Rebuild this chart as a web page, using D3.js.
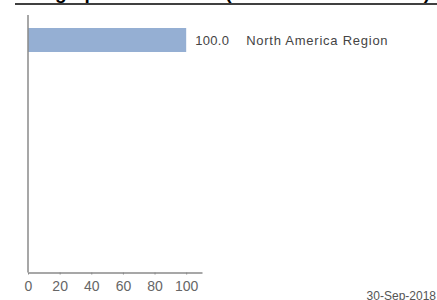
<!DOCTYPE html>
<html lang="en">
<head>
    <meta charset="UTF-8">
    <title>Geographic Allocation</title>
    <script src="https://d3js.org/d3.v7.min.js"></script>
    <style>
        html, body { margin: 0; padding: 0; background: #fff; overflow: hidden; }
        svg { display: block; font-family: "Liberation Sans", Arial, sans-serif; }
    </style>
</head>
<body>
    <script>
        const categories = ['North America Region'];
        const values = [100.0];
        const tickValues = [0, 20, 40, 60, 80, 100];
        const title = 'Geographic Allocation (% of Total Net Assets)';
        const asOfDate = '30-Sep-2018';

        const width = 437, height = 300;
        const margin = { top: 15, left: 28, bottom: 27 };

        const svg = d3.select("body").append("svg")
            .attr("width", width)
            .attr("height", height);

        // title sits mostly above the visible area, only descenders show
        svg.append("text")
            .attr("x", 18)
            .attr("y", -1.5)
            .style("font-size", "19px")
            .style("font-weight", "bold")
            .style("fill", "#000")
            .text(title);

        svg.append("line")
            .attr("x1", 15).attr("x2", width)
            .attr("y1", 4).attr("y2", 4)
            .style("stroke", "#000")
            .style("stroke-width", 1.5);

        const xScale = d3.scaleLinear()
            .domain([0, 110])
            .range([margin.left, 202]);

        const yScale = d3.scaleBand()
            .domain(categories)
            .range([25, 25 + categories.length * 30])
            .paddingInner(0.2)
            .paddingOuter(0.1);

        const axisY = height - margin.bottom - 0.5;

        // bars
        svg.selectAll("rect.bar")
            .data(values)
            .enter()
            .append("rect")
            .attr("class", "bar")
            .attr("x", xScale(0))
            .attr("y", (d, i) => yScale(categories[i]))
            .attr("width", d => xScale(d) - xScale(0))
            .attr("height", yScale.bandwidth())
            .style("fill", "#95afd3");

        svg.selectAll("text.val")
            .data(values)
            .enter()
            .append("text")
            .attr("class", "val")
            .attr("x", d => xScale(d) + 9)
            .attr("y", (d, i) => yScale(categories[i]) + yScale.bandwidth() / 2)
            .attr("dy", "0.36em")
            .style("font-size", "13px")
            .style("letter-spacing", "0.3px")
            .style("fill", "#444")
            .text(d => d.toFixed(1));

        svg.selectAll("text.cat")
            .data(values)
            .enter()
            .append("text")
            .attr("class", "cat")
            .attr("x", d => xScale(d) + 60)
            .attr("y", (d, i) => yScale(categories[i]) + yScale.bandwidth() / 2)
            .attr("dy", "0.36em")
            .style("font-size", "13px")
            .style("letter-spacing", "0.75px")
            .style("fill", "#444")
            .text((d, i) => categories[i]);

        // x axis
        const xAxis = svg.append("g")
            .attr("transform", `translate(0,${axisY})`)
            .call(d3.axisBottom(xScale).tickValues(tickValues).tickSize(2).tickSizeOuter(0).tickPadding(7));
        xAxis.select(".domain").style("stroke", "#8a8a8a").style("stroke-width", 1.5);
        xAxis.selectAll(".tick line").style("stroke", "#8a8a8a");
        xAxis.selectAll(".tick text")
            .style("font-family", "'Liberation Sans', Arial, sans-serif")
            .style("font-size", "14px")
            .style("fill", "#666");

        // y axis line
        svg.append("line")
            .attr("x1", xScale(0)).attr("x2", xScale(0))
            .attr("y1", margin.top).attr("y2", axisY)
            .style("stroke", "#8a8a8a")
            .style("stroke-width", 1.5);

        svg.append("text")
            .attr("x", width - 1)
            .attr("y", 299.5)
            .attr("text-anchor", "end")
            .style("font-family", "'Liberation Sans Narrow', 'Arial Narrow', sans-serif")
            .style("font-size", "12px")
            .style("fill", "#555")
            .text(asOfDate);
    </script>
</body>
</html>
